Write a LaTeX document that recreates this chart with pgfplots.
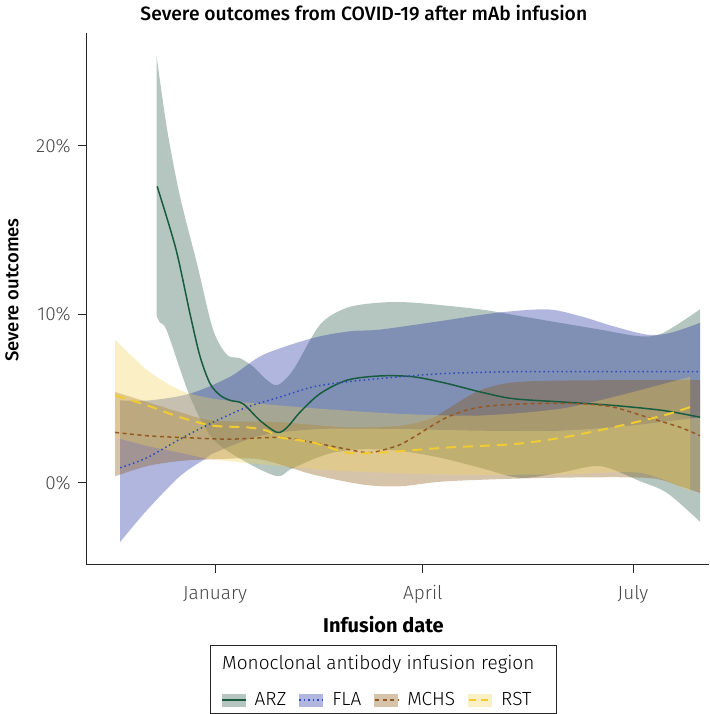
\documentclass[border=0pt]{standalone}
\usepackage{pgfplots}
\pgfplotsset{compat=1.18}
\usepgfplotslibrary{fillbetween}
\usepackage{fontspec}
\setmainfont{Fira Sans}
\newfontfamily\lightfont{Fira Sans Light}
\newfontfamily\medfont{Fira Sans Medium}
\definecolor{arzL}{RGB}{24,92,64}
\definecolor{arzF}{RGB}{44,89,72}
\definecolor{flaL}{RGB}{45,75,190}
\definecolor{flaF}{RGB}{29,46,161}
\definecolor{mchL}{RGB}{150,88,35}
\definecolor{mchF}{RGB}{138,86,12}
\definecolor{rstL}{RGB}{240,204,50}
\definecolor{rstF}{RGB}{240,210,90}
\begin{document}
\begin{tikzpicture}
\begin{axis}[
 scale only axis, width=623pt, height=532pt,
 xmin=-55.9, xmax=213.9, ymin=-4.87, ymax=26.7,
 axis lines*=left, axis line style={line width=1pt, black!85, -},
 xtick={0,90,181}, xticklabels={January,April,July},
 ytick={0,10,20}, yticklabels={0\%,10\%,20\%},
 tick align=outside, major tick length=8pt, tick style={line width=1pt, black!85},
 xticklabel style={anchor=base, yshift=-26pt, inner sep=0pt},
 yticklabel style={anchor=east, xshift=-7pt, inner sep=0pt},
 every tick label/.append style={font=\lightfont\fontsize{19}{22}\selectfont, text=black!72},
 clip=false,
 legend columns=4,
 legend style={draw=none, fill=none, at={(axis description cs:0.4560,-0.2538)}, anchor=center,
   font=\lightfont\fontsize{19}{22}\selectfont, inner sep=0pt, nodes={inner sep=0pt}},
]
\addlegendimage{legend image code/.code={\path[draw=none] (-13pt,-7pt) rectangle (33pt,7pt); \fill[draw=none, arzF, fill opacity=0.35] (0pt,-6.5pt) rectangle (24pt,6.5pt); \draw[arzL, line width=1.5pt] (0pt,0pt) -- (24pt,0pt);}}
\addlegendentry{ARZ}
\addlegendimage{legend image code/.code={\path[draw=none] (-13pt,-7pt) rectangle (33pt,7pt); \fill[draw=none, flaF, fill opacity=0.35] (0pt,-6.5pt) rectangle (24pt,6.5pt); \draw[flaL, line width=1.5pt, dash pattern=on 1.5pt off 3pt] (0pt,0pt) -- (24pt,0pt);}}
\addlegendentry{FLA}
\addlegendimage{legend image code/.code={\path[draw=none] (-13pt,-7pt) rectangle (33pt,7pt); \fill[draw=none, mchF, fill opacity=0.35] (0pt,-6.5pt) rectangle (24pt,6.5pt); \draw[mchL, line width=1.5pt, dash pattern=on 4pt off 3.5pt] (1pt,0pt) -- (24pt,0pt);}}
\addlegendentry{MCHS}
\addlegendimage{legend image code/.code={\path[draw=none] (-13pt,-7pt) rectangle (33pt,7pt); \fill[draw=none, rstF, fill opacity=0.35] (0pt,-6.5pt) rectangle (24pt,6.5pt); \draw[rstL, line width=2pt, dash pattern=on 7pt off 5pt] (1pt,0pt) -- (24pt,0pt);}}
\addlegendentry{RST}

% ARZ
\addplot[name path=arzU, draw=none, smooth, forget plot] coordinates {(-25.3,25.3)(-20.8,21.0)(-15.2,17.0)(-7.8,13.0)(-0.9,9.1)(5.2,7.6)(10.8,7.4)(16.5,6.9)(21.7,6.2)(26.9,5.8)(33.8,6.7)(45.5,9.4)(57.2,10.4)(71.5,10.7)(85.8,10.7)(114.8,10.3)(132.1,9.9)(149.4,9.5)(166.7,9.1)(184.1,8.7)(194.0,8.9)(210.0,10.3)};
\addplot[name path=arzD, draw=none, smooth, forget plot] coordinates {(-25.3,9.9)(-23.8,9.5)(-20.8,9.0)(-10.8,5.1)(-0.9,2.6)(13.9,1.2)(26.9,0.4)(32.5,0.8)(42.4,1.4)(51.1,1.8)(64.1,2.0)(80.1,1.9)(97.4,1.5)(114.8,0.9)(132.1,0.3)(149.4,0.6)(166.7,1.0)(184.1,0.1)(195.8,-0.6)(210.0,-2.3)};
\addplot[arzF, fill opacity=0.35, draw=none, forget plot] fill between[of=arzU and arzD];
\addplot[arzL, line width=1.5pt, smooth, forget plot] coordinates {(-25.1,17.6)(-17.0,13.9)(-10.8,10.0)(-6.5,7.5)(-2.2,5.9)(2.2,5.2)(6.5,4.9)(12.1,4.7)(19.5,3.7)(26.9,3.0)(31.2,3.3)(36.8,4.2)(45.5,5.3)(57.2,6.1)(71.5,6.35)(85.8,6.3)(100.5,5.9)(114.8,5.4)(129.1,5.0)(150.7,4.8)(172.4,4.6)(194.0,4.3)(210.0,3.9)};

% FLA
\addplot[name path=flaU, draw=none, smooth, forget plot] coordinates {(-41.1,4.9)(-28.2,4.9)(-10.8,5.3)(6.5,6.3)(20.8,7.6)(42.4,8.6)(58.5,9.0)(71.5,9.1)(97.4,9.6)(122.2,10.1)(143.8,10.3)(158.1,9.9)(172.4,9.3)(187.1,8.8)(197.1,8.9)(210.0,9.5)};
\addplot[name path=flaD, draw=none, smooth, forget plot] coordinates {(-41.1,-3.5)(-29.4,-1.6)(-15.2,0.4)(-3.5,1.5)(0,1.8)(19.5,2.8)(45.5,3.2)(80.1,3.2)(114.8,3.1)(149.4,3.1)(179.7,3.4)(210.0,3.9)};
\addplot[flaF, fill opacity=0.35, draw=none, forget plot] fill between[of=flaU and flaD];
\addplot[flaL, line width=1.5pt, dash pattern=on 1.5pt off 3pt, smooth, forget plot] coordinates {(-41.1,0.9)(-29.4,1.5)(-15.2,2.6)(-0.9,3.6)(13.9,4.5)(28.2,5.1)(42.4,5.7)(57.2,6.0)(80.1,6.3)(100.5,6.5)(129.1,6.6)(166.7,6.6)(210.0,6.6)};

% MCHS
\addplot[name path=mchU, draw=none, smooth, forget plot] coordinates {(-43.3,5.4)(-29.4,4.8)(-15.2,4.2)(-0.9,3.7)(28.2,3.6)(57.2,3.3)(80.1,3.4)(93.1,3.8)(102.0,4.5)(114.8,5.5)(132.0,6.0)(172.4,6.1)(210.0,6.1)};
\addplot[name path=mchD, draw=none, smooth, forget plot] coordinates {(-43.3,0.4)(-29.4,1.0)(-15.2,1.3)(-0.9,1.4)(19.5,1.4)(42.4,0.5)(64.1,-0.1)(80.1,-0.2)(100.5,0.1)(143.8,0.3)(187.1,0.3)(201.4,-0.2)(210.0,-0.6)};
\addplot[mchF, fill opacity=0.35, draw=none, forget plot] fill between[of=mchU and mchD];
\addplot[mchL, line width=1.5pt, dash pattern=on 4pt off 3.5pt, smooth, forget plot] coordinates {(-43.3,3.0)(-29.4,2.8)(-15.2,2.7)(6.5,2.6)(28.2,2.7)(42.4,2.4)(57.2,2.0)(67.1,1.8)(78.8,2.2)(85.8,2.7)(100.5,3.9)(114.8,4.5)(136.4,4.7)(158.1,4.7)(172.4,4.5)(187.1,3.9)(201.4,3.3)(210.0,2.8)};

% RST
\addplot[name path=rstU, draw=none, smooth, forget plot] coordinates {(-43.3,8.5)(-29.4,6.7)(-15.2,5.5)(-0.9,5.0)(19.5,4.7)(45.5,4.4)(80.1,4.1)(114.8,4.0)(149.4,4.4)(175.4,5.2)(205.7,6.3)};
\addplot[name path=rstD, draw=none, smooth, forget plot] coordinates {(-43.3,2.7)(-29.4,2.2)(-15.2,1.8)(-0.9,1.4)(28.2,1.0)(57.2,0.7)(102.1,0.5)(149.4,0.5)(184.1,0.6)(205.7,-0.5)};
\addplot[rstF, fill opacity=0.35, draw=none, forget plot] fill between[of=rstU and rstD];
\addplot[rstL, line width=2pt, dash pattern=on 10pt off 7pt, smooth, forget plot] coordinates {(-43.3,5.2)(-29.4,4.6)(-15.2,3.9)(-0.9,3.4)(13.9,3.3)(22.5,3.1)(28.2,2.7)(42.4,2.4)(57.2,1.8)(71.5,1.8)(100.5,2.1)(129.1,2.3)(150.7,2.7)(172.4,3.3)(194.0,4.0)(205.7,4.5)};

% titles and legend frame
\node[anchor=base, font=\medfont\fontsize{19.3}{23}\selectfont] at (axis description cs:0.446,1.0244) {Severe outcomes from COVID-19 after mAb infusion};
\node[rotate=90, anchor=center, font=\medfont\fontsize{18.5}{22}\selectfont] at (axis description cs:-0.1188,0.517) {Severe outcomes};
\node[anchor=base, font=\bfseries\fontsize{20}{24}\selectfont] at (axis description cs:0.4775,-0.1278) {Infusion date};
\node[anchor=west, font=\lightfont\fontsize{19}{22}\selectfont, inner sep=0pt] at (axis description cs:0.2183,-0.1861) {Monoclonal antibody infusion region};
\draw[line width=1pt, black!85] (axis description cs:0.2006,-0.1504) rectangle (axis description cs:0.756,-0.2782);
\end{axis}
\pgfresetboundingbox
\path ([shift={(-86pt,-149pt)}]current axis.south west) rectangle ([shift={(0pt,33pt)}]current axis.north east);
\end{tikzpicture}
\end{document}
